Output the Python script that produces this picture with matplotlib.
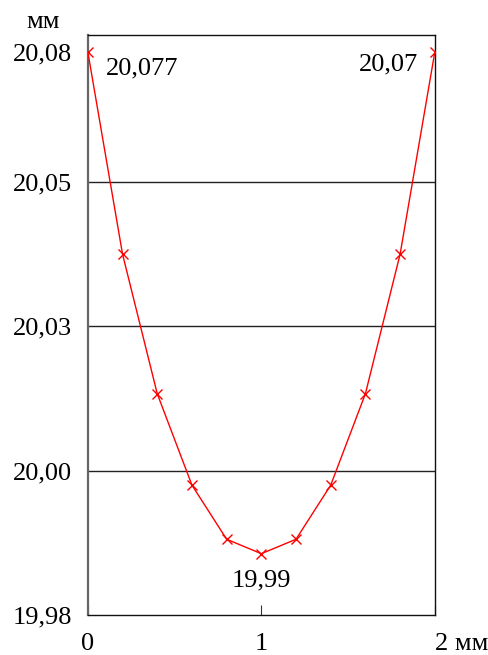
import numpy as np
import matplotlib
matplotlib.use('Agg')
import matplotlib.pyplot as plt

# данные (мм)
x_mm = [0, 0.2, 0.4, 0.6, 0.8, 1.0, 1.2, 1.4, 1.6, 1.8, 2.0]
y_mm = [20.08, 20.040, 20.016, 19.998, 19.9905, 19.9885, 19.9905, 19.998, 20.016, 20.040, 20.08]

ytick_vals = [19.98, 20.00, 20.03, 20.05, 20.08]
ytick_labels = ['19,98', '20,00', '20,03', '20,05', '20,08']
grid_vals = [20.00, 20.03, 20.05]

xtick_vals = [0, 1, 2]
xtick_labels = ['0', '1', '2 мм']

# подписи точек: (индекс, текст)
notes = [(0, '20,077'), (10, '20,07'), (5, '19,99')]

# шкала по оси y неравномерная: метки стоят через равные промежутки
pos_knots = [0, 1, 2, 3, 3.9, 4.2]
val_knots = [19.98, 20.00, 20.03, 20.05, 20.08, 20.09]


def fwd(v):
    return np.interp(v, val_knots, pos_knots)


def inv(p):
    return np.interp(p, pos_knots, val_knots)


plt.rcParams['font.family'] = ['Liberation Serif', 'DejaVu Serif']
plt.rcParams['font.size'] = 19

fig = plt.figure(figsize=(4.88, 6.55), dpi=100)
ax = fig.add_axes([0.180, 0.061, 0.711, 0.886])
ax.set_yscale('function', functions=(fwd, inv))

for g in grid_vals:
    ax.axhline(g, color='#222222', lw=1.0, zorder=1)

ax.plot(x_mm, y_mm, color='red', lw=1.0, marker='x', ms=7, mew=1.0, zorder=3)

ax.set_xlim(0, 2)
ax.set_ylim(19.98, inv(4.02))

ax.set_yticks(ytick_vals)
ax.set_yticklabels(ytick_labels)
ax.tick_params(axis='y', length=0, pad=11.5)
ax.set_xticks(xtick_vals)
ax.set_xticklabels(xtick_labels)
ax.tick_params(axis='x', direction='in', length=7, width=0.8, pad=13, color='#333333')
ax.get_xticklabels()[-1].set_horizontalalignment('left')

for s in ['top', 'right', 'bottom']:
    ax.spines[s].set_color('#111111')
    ax.spines[s].set_linewidth(1.0)
ax.spines['left'].set_color('#666666')
ax.spines['left'].set_linewidth(1.6)

offsets = {0: (18, -16, 'left'), 10: (-17, -12, 'right'), 5: (0, -27, 'center')}
for i, txt in notes:
    dx, dy, ha = offsets[i]
    ax.annotate(txt, (x_mm[i], y_mm[i]), xytext=(dx, dy), textcoords='offset pixels',
                ha=ha, va='center')

fig.text(43 / 488, 1 - 22 / 655, 'мм', ha='center', va='center')

fig.savefig('out.png', dpi=100)
